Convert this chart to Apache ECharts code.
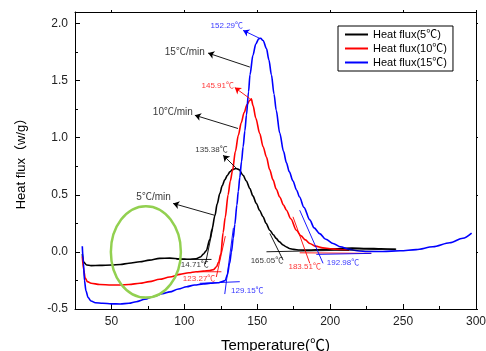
<!DOCTYPE html>
<html>
<head>
<meta charset="utf-8">
<script src="https://cdn.jsdelivr.net/npm/echarts@6/dist/echarts.min.js"></script>
<style>
  html, body { margin: 0; padding: 0; background: #fff; }
  #chart { width: 486px; height: 351px; }
</style>
</head>
<body>
<div id="chart"></div>
<script>
// heat flow curves (temperature in ℃, flux in w/g)
const temp5 = [30, 31, 33, 36, 42, 50, 56, 62, 69.5, 76, 83, 90, 97, 103, 108, 111, 113, 115, 117.5, 119, 121, 122.5, 124.3, 126, 127.7, 129.5, 131.2, 133, 135.4, 137.5, 140.3, 142.5, 144.9, 147, 149.4, 151.5, 154, 156, 158.6, 161, 163, 165, 167.7, 170, 172, 175, 179, 185, 195, 205, 215, 225, 235, 245];
const flux5 = [-0.02, -0.09, -0.115, -0.12, -0.118, -0.115, -0.11, -0.1, -0.087, -0.072, -0.057, -0.055, -0.062, -0.065, -0.06, -0.045, -0.02, 0.01, 0.11, 0.2, 0.32, 0.42, 0.51, 0.58, 0.63, 0.67, 0.7, 0.72, 0.73, 0.72, 0.67, 0.62, 0.555, 0.49, 0.424, 0.365, 0.307, 0.25, 0.19, 0.15, 0.118, 0.09, 0.06, 0.043, 0.03, 0.022, 0.016, 0.015, 0.02, 0.028, 0.033, 0.03, 0.027, 0.022];

const temp10 = [30, 31, 32, 33.5, 36, 42, 50, 56, 62, 69.5, 76, 83, 90, 97, 103, 108, 113, 117.5, 120, 122, 123.5, 125, 126.6, 128, 130, 131.5, 133, 135, 137, 139, 141, 143, 145, 145.9, 147.1, 149, 151.7, 154, 156.3, 158.5, 160.8, 163, 165.4, 168, 170, 173, 176.8, 180, 183, 186, 190, 195, 200, 206, 213];
const flux10 = [-0.04, -0.16, -0.23, -0.26, -0.275, -0.285, -0.29, -0.29, -0.285, -0.275, -0.26, -0.24, -0.22, -0.197, -0.183, -0.174, -0.168, -0.163, -0.155, -0.13, -0.09, -0.02, 0.17, 0.3, 0.5, 0.62, 0.71, 0.88, 1.02, 1.13, 1.22, 1.29, 1.33, 1.34, 1.28, 1.17, 1.035, 0.92, 0.83, 0.72, 0.63, 0.55, 0.48, 0.41, 0.365, 0.29, 0.19, 0.14, 0.105, 0.074, 0.05, 0.035, 0.028, 0.02, 0.015];

const temp15 = [30, 30.8, 31.5, 32.5, 34, 36, 39, 44, 50, 56, 62, 67, 73, 79, 85, 90, 96, 101.5, 107, 113, 118, 123, 126, 128, 129.5, 131, 132.3, 133.5, 134.6, 136, 137, 138, 139.2, 140.3, 141.5, 142.6, 144, 145, 147, 149, 151, 152.3, 154, 156.3, 158, 159.7, 161.5, 163, 165.4, 168, 170, 172, 174.5, 177, 179, 182, 186, 189, 192.8, 197, 202, 207, 213, 220, 225, 236, 248, 259, 270.5, 282, 291, 297];
const flux15 = [0.05, -0.1, -0.25, -0.34, -0.4, -0.43, -0.445, -0.45, -0.455, -0.456, -0.45, -0.436, -0.415, -0.39, -0.365, -0.35, -0.325, -0.305, -0.29, -0.28, -0.275, -0.27, -0.26, -0.25, -0.2, -0.1, 0.0, 0.12, 0.24, 0.41, 0.53, 0.65, 0.79, 0.92, 1.06, 1.2, 1.4, 1.55, 1.72, 1.82, 1.865, 1.87, 1.85, 1.78, 1.68, 1.55, 1.38, 1.24, 1.04, 0.88, 0.78, 0.7, 0.62, 0.54, 0.48, 0.39, 0.28, 0.21, 0.16, 0.11, 0.074, 0.045, 0.022, 0.008, 0.003, 0.003, 0.01, 0.02, 0.045, 0.08, 0.12, 0.165];

const seriesNames = ['Heat flux(5℃)', 'Heat flux(10℃)', 'Heat flux(15℃)'];
const xTicks = [50, 100, 150, 200, 250, 300];
const xMinorTicks = [25, 50, 75, 100, 125, 150, 175, 200, 225, 250, 275, 300];
const yTicks = [-0.5, 0, 0.5, 1.0, 1.5, 2.0];
const yMinorTicks = [-0.5, -0.25, 0, 0.25, 0.5, 0.75, 1.0, 1.25, 1.5, 1.75, 2.0];

// annotation texts and where they sit (data coords)
const noteText = ['152.29℃', '15℃/min', '145.91℃', '10℃/min', '135.38℃', '5℃/min', '14.71℃', '123.27℃', '129.15℃', '165.05℃', '183.51℃', '192.98℃'];
const noteT = [129.1, 100.3, 122.9, 92.1, 118.6, 78.9, 107.2, 110.1, 143.2, 156.6, 182.5, 208.8];
const noteV = [1.983, 1.749, 1.458, 1.225, 0.89, 0.482, -0.115, -0.232, -0.343, -0.075, -0.13, -0.095];
const noteColor = ['#0000ff', '#000', '#ff0000', '#000', '#000', '#000', '#000', '#ff0000', '#0000ff', '#000', '#ff0000', '#0000ff'];
const noteSize = [8, 10, 8, 10, 8, 10, 8, 8, 8, 8, 8, 8];

// arrows: [fromT, fromV, toT, toV]
const arrows = [
  [151.7, 1.869, 140.3, 1.939],
  [144.9, 1.618, 116.3, 1.74],
  [144.9, 1.342, 134.6, 1.438],
  [136.8, 1.08, 107.2, 1.196],
  [135.8, 0.73, 126.6, 0.846],
  [120.9, 0.32, 92.3, 0.424]
];
const arrowColor = ['#0000ff', '#000', '#ff0000', '#000', '#000', '#000'];

// onset / endset tangent segments: [t1, v1, t2, v2]
const tangents = [
  [94.6, -0.066, 118.6, -0.066],
  [114.4, -0.107, 119.5, 0.208],
  [108.3, -0.174, 125.4, -0.174],
  [121.9, -0.22, 128.1, 0.138],
  [110.6, -0.275, 138, -0.261],
  [127.7, -0.369, 133.6, 0.208],
  [156.3, 0.001, 245.3, 0.024],
  [158.6, 0.162, 167.7, -0.072],
  [179.1, -0.008, 228.2, -0.013],
  [174.5, 0.307, 186, -0.1],
  [190.5, -0.022, 228.2, -0.013],
  [179.1, 0.365, 195.1, -0.1]
];
const tangentColor = ['#000', '#000', '#ff0000', '#ff0000', '#0000ff', '#0000ff', '#000', '#000', '#ff0000', '#ff0000', '#0000ff', '#0000ff'];

// marked region (green ring) centre and half-sizes in data units
const ringT = 73.6, ringV = 0.0, ringHalfT = 24, ringHalfV = 0.4;

const font = 'Liberation Sans, Arial, Noto Sans CJK SC, sans-serif';
const chart = echarts.init(document.getElementById('chart'));

function pairs(xs, ys) { return xs.map((x, i) => [x, ys[i]]); }

const curveColors = ['#000000', '#ff0000', '#0000ff'];
const curves = [pairs(temp5, flux5), pairs(temp10, flux10), pairs(temp15, flux15)].map((d, i) => ({
  name: seriesNames[i],
  type: 'line',
  data: d,
  symbol: 'none',
  smooth: 0.3,
  smoothMonotone: 'x',
  lineStyle: { color: curveColors[i], width: 1.6 },
  itemStyle: { color: curveColors[i] },
  z: 3
}));

const tangentSeries = tangents.map((s, i) => ({
  type: 'line',
  data: [[s[0], s[1]], [s[2], s[3]]],
  symbol: 'none',
  silent: true,
  lineStyle: { color: tangentColor[i], width: 0.9 },
  z: 4
}));

const arrowSeries = {
  type: 'line',
  data: [],
  silent: true,
  markLine: {
    silent: true,
    symbol: ['none', 'arrow'],
    symbolSize: 6,
    label: { show: false },
    animation: false,
    data: arrows.map((a, i) => [
      { coord: [a[0], a[1]], lineStyle: { color: arrowColor[i], width: 0.9, type: 'solid' } },
      { coord: [a[2], a[3]] }
    ])
  }
};

const noteSeries = {
  type: 'scatter',
  symbolSize: 0,
  silent: true,
  z: 6,
  data: noteText.map((t, i) => ({
    value: [noteT[i], noteV[i]],
    label: {
      show: true, position: 'inside', formatter: t,
      color: noteColor[i], fontSize: noteSize[i], fontFamily: font
    }
  }))
};

const option = {
  animation: false,
  backgroundColor: '#fff',
  grid: { left: 75, right: 10, top: 12, bottom: 42, containLabel: false, outerBoundsMode: 'none' },
  legend: {
    data: seriesNames.map(n => ({ name: n, icon: 'rect' })),
    orient: 'vertical',
    left: 338,
    top: 26,
    padding: [2, 6, 2, 7],
    itemGap: 1,
    itemWidth: 23,
    itemHeight: 2,
    borderColor: '#000',
    borderWidth: 1,
    borderRadius: 0,
    textStyle: { fontSize: 11, fontFamily: font, color: '#000', lineHeight: 13, height: 13 }
  },
  xAxis: [
    {
      type: 'value', position: 'bottom', min: 25, max: 300, interval: 25,
      name: 'Temperature(℃)', nameLocation: 'middle', nameGap: 29,
      nameTextStyle: { fontSize: 15, fontFamily: font, color: '#000' },
      axisLine: { onZero: false, lineStyle: { color: '#000', width: 1 } },
      axisTick: { inside: true, length: 5, customValues: xTicks, lineStyle: { color: '#000' } },
      axisLabel: { margin: 7, fontSize: 12, fontFamily: font, color: '#222', customValues: xTicks },
      splitLine: { show: false }
    },
    {
      type: 'value', position: 'bottom', min: 25, max: 300, interval: 25,
      axisLine: { show: false, onZero: false },
      axisTick: { inside: true, length: 3, customValues: xMinorTicks, lineStyle: { color: '#000' } },
      axisLabel: { show: false },
      splitLine: { show: false }
    },
    {
      type: 'value', position: 'top', min: 25, max: 300, interval: 25,
      axisLine: { onZero: false, lineStyle: { color: '#000', width: 1 } },
      axisTick: { inside: false, length: 2, customValues: xTicks, lineStyle: { color: '#000' } },
      axisLabel: { show: false },
      splitLine: { show: false }
    }
  ],
  yAxis: [
    {
      type: 'value', position: 'left', min: -0.5, max: 2.1, interval: 0.25,
      name: 'Heat flux（w/g）', nameLocation: 'middle', nameGap: 47, nameRotate: 90,
      nameTextStyle: { fontSize: 13, fontFamily: font, color: '#000' },
      axisLine: { onZero: false, lineStyle: { color: '#000', width: 1 } },
      axisTick: { inside: true, length: 5, customValues: yTicks, lineStyle: { color: '#000' } },
      axisLabel: {
        margin: 7, fontSize: 12, fontFamily: font, color: '#222', customValues: yTicks,
        formatter: v => v.toFixed(1)
      },
      splitLine: { show: false }
    },
    {
      type: 'value', position: 'left', min: -0.5, max: 2.1, interval: 0.25,
      axisLine: { show: false, onZero: false },
      axisTick: { inside: true, length: 3, customValues: yMinorTicks, lineStyle: { color: '#000' } },
      axisLabel: { show: false },
      splitLine: { show: false }
    },
    {
      type: 'value', position: 'right', min: -0.5, max: 2.1, interval: 0.25,
      axisLine: { onZero: false, lineStyle: { color: '#000', width: 1 } },
      axisTick: { inside: false, length: 2, customValues: yTicks, lineStyle: { color: '#000' } },
      axisLabel: { show: false },
      splitLine: { show: false }
    }
  ],
  series: [...curves, ...tangentSeries, arrowSeries, noteSeries]
};

chart.setOption(option);

// green ring drawn over the low-temperature baseline region
const c = chart.convertToPixel({ gridIndex: 0 }, [ringT, ringV]);
const e = chart.convertToPixel({ gridIndex: 0 }, [ringT + ringHalfT, ringV + ringHalfV]);
chart.setOption({
  graphic: [{
    type: 'ellipse',
    shape: { cx: c[0], cy: c[1], rx: Math.abs(e[0] - c[0]), ry: Math.abs(c[1] - e[1]) },
    style: { fill: 'none', stroke: '#92d050', lineWidth: 2.5 },
    z: 100,
    silent: true
  }]
});
</script>
</body>
</html>
